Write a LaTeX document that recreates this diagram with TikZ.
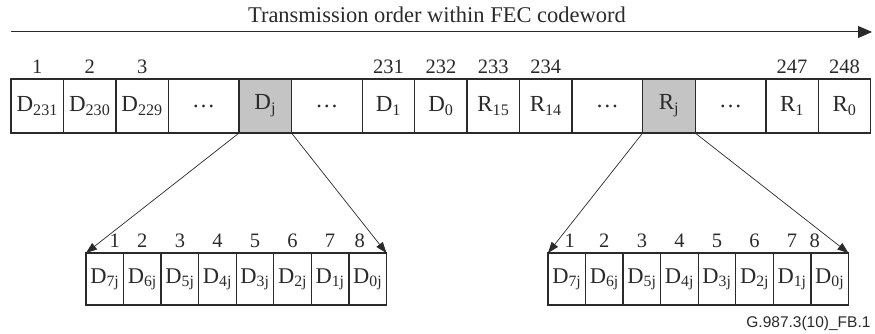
\documentclass[tikz,border=0pt]{standalone}
\usepackage{fontspec}
\setmainfont{Liberation Serif}
\newfontfamily\figsans{Liberation Sans}
\usetikzlibrary{positioning,arrows.meta}
\definecolor{cShade}{HTML}{C4C4C4}
\definecolor{cLine}{HTML}{2A2A2A}

\begin{document}
\begin{tikzpicture}[x=1pt, y=-1pt,
  node distance=0pt,
  every node/.style={text=cLine},
  cell/.style={draw=cLine, line width=1.3pt, inner sep=0pt, outer sep=0pt,
    minimum width=52.45pt, minimum height=54pt, font=\fontsize{23}{25}\selectfont},
  gap/.style={cell, minimum width=70.7pt},
  hit/.style={fill=cShade},
  bit/.style={draw=cLine, line width=1.3pt, inner sep=0pt, outer sep=0pt,
    minimum width=37.55pt, minimum height=52pt, font=\fontsize{22.5}{24}\selectfont},
  every label/.style={font=\fontsize{20.5}{22}\selectfont, inner sep=0pt},
  label distance=5.5pt,
  arr/.style={-{Triangle[length=11pt, width=8pt]}, line width=0.7pt, draw=cLine}]

  \useasboundingbox (0,0) rectangle (875,334);

  % transmission order
  \node[font=\fontsize{22.5}{24}\selectfont, anchor=base] (title) at (437,23)
    {Transmission order within FEC codeword};
  \coordinate (first) at (11,32);
  \coordinate (last) at (872,32);
  \draw[line width=1pt, draw=cLine, -{Triangle[length=14pt, width=12pt]}] (first) -- (last);

  % FEC codeword
  \node[cell, anchor=west, label={above:1}] (d231) at (11,106) {D\textsubscript{231}};
  \node[cell, right=of d231, label={above:2}] (d230) {D\textsubscript{230}};
  \node[cell, right=of d230, label={above:3}] (d229) {D\textsubscript{229}};
  \node[gap, right=of d229] (gapa) {\dots};
  \node[cell, hit, right=of gapa] (dj) {D\textsubscript{j}};
  \node[gap, right=of dj] (gapb) {\dots};
  \node[cell, right=of gapb, label={above:231}] (d1) {D\textsubscript{1}};
  \node[cell, right=of d1, label={above:232}] (d0) {D\textsubscript{0}};
  \node[cell, right=of d0, label={above:233}] (r15) {R\textsubscript{15}};
  \node[cell, right=of r15, label={above:234}] (r14) {R\textsubscript{14}};
  \node[gap, right=of r14] (gapc) {\dots};
  \node[cell, hit, right=of gapc] (rj) {R\textsubscript{j}};
  \node[gap, right=of rj] (gapd) {\dots};
  \node[cell, right=of gapd, label={above:247}] (r1) {R\textsubscript{1}};
  \node[cell, right=of r1, label={above:248}] (r0) {R\textsubscript{0}};

  % bits of a data byte
  \node[bit, anchor=north west, label={[xshift=10pt]above:1}] (dq7) at (86,253) {D\textsubscript{7j}};
  \node[bit, right=of dq7, label={above:2}] (dq6) {D\textsubscript{6j}};
  \node[bit, right=of dq6, label={above:3}] (dq5) {D\textsubscript{5j}};
  \node[bit, right=of dq5, label={above:4}] (dq4) {D\textsubscript{4j}};
  \node[bit, right=of dq4, label={above:5}] (dq3) {D\textsubscript{3j}};
  \node[bit, right=of dq3, label={above:6}] (dq2) {D\textsubscript{2j}};
  \node[bit, right=of dq2, label={above:7}] (dq1) {D\textsubscript{1j}};
  \node[bit, right=of dq1, label={[xshift=-8pt]above:8}] (dq0) {D\textsubscript{0j}};

  % bits of a parity byte
  \node[bit, anchor=north west, label={[xshift=3pt]above:1}] (rq7) at (548,253) {D\textsubscript{7j}};
  \node[bit, right=of rq7, label={above:2}] (rq6) {D\textsubscript{6j}};
  \node[bit, right=of rq6, label={above:3}] (rq5) {D\textsubscript{5j}};
  \node[bit, right=of rq5, label={above:4}] (rq4) {D\textsubscript{4j}};
  \node[bit, right=of rq4, label={above:5}] (rq3) {D\textsubscript{3j}};
  \node[bit, right=of rq3, label={above:6}] (rq2) {D\textsubscript{2j}};
  \node[bit, right=of rq2, label={above:7}] (rq1) {D\textsubscript{1j}};
  \node[bit, right=of rq1, label={[xshift=-15pt]above:8}] (rq0) {D\textsubscript{0j}};

  \draw[arr] (dj.south west) -- (dq7.north west);
  \draw[arr] (dj.south east) -- (dq0.north east);
  \draw[arr] (rj.south west) -- (rq7.north west);
  \draw[arr] (rj.south east) -- (rq0.north east);

  \node[font=\figsans\fontsize{15.5}{17}\selectfont, anchor=base east] (tag) at (874,327)
    {G.987.3(10)\_FB.1};
\end{tikzpicture}
\end{document}
